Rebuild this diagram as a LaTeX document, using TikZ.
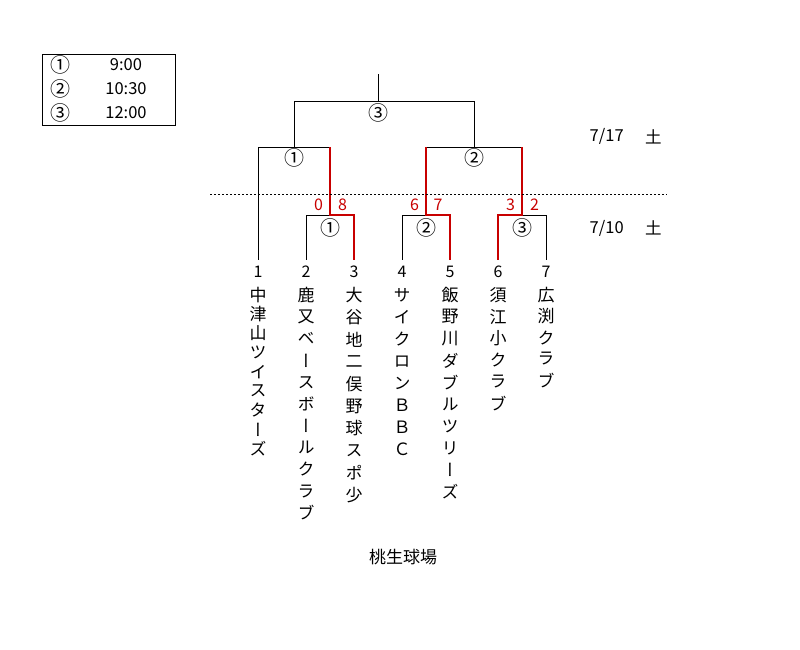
\documentclass[tikz,border=0pt]{standalone}
\usepackage{fontspec}
\setmainfont{Noto Sans CJK JP}
\newfontfamily\tatefont[RawFeature=+vert]{Noto Sans CJK JP}
\usetikzlibrary{calc,positioning}
\definecolor{win}{HTML}{C80000}

\begin{document}
\begin{tikzpicture}[x=1pt,y=-1pt,every node/.style={inner sep=0pt,font=\fontsize{16.5}{16.5}\selectfont},
  lose/.style={draw=black,line width=0.9pt},
  won/.style={draw=win,line width=2pt},
  num/.style={outer ysep=6pt,font=\fontsize{16}{16}\selectfont},
  tate/.style={font=\tatefont\fontsize{17}{17}\selectfont},
  rnd/.style={font=\fontsize{20}{20}\selectfont},
  score/.style={text=win,font=\fontsize{16}{16}\selectfont}]
\useasboundingbox (0,0) rectangle (800,650);
\draw (42,54) rectangle (175,125);
\foreach \y/\r/\t [count=\i] in {65/①/9:00,89/②/10:30,112.7/③/12:00}{
\node[rnd] (k\i) at (60.7,\y) {\r};
\node (h\i) at (126,\y) {\t};}
\foreach \x/\idx/\gap/\name in {258/1/19.2/{中,津,山,ツ,イ,ス,タ,ー,ズ},
  306/2/21.8/{鹿,又,ベ,ー,ス,ボ,ー,ル,ク,ラ,ブ},
  354/3/22.2/{大,谷,地,二,俣,野,球,ス,ポ,少},
  402/4/22.1/{サ,イ,ク,ロ,ン,Ｂ,Ｂ,Ｃ},
  450/5/21.9/{飯,野,川,ダ,ブ,ル,ツ,リ,ー,ズ},
  498/6/21.7/{須,江,小,ク,ラ,ブ},
  546/7/21.3/{広,渕,ク,ラ,ブ}}{
\node[num] (n\idx) at (\x,271.7) {\idx};
\foreach \c [count=\k] in \name
  \node[tate] (t\idx-\k) at (\x,{295+(\k-1)*\gap}) {\c};}
\coordinate (m1) at (330,215);
\coordinate (m2) at (426,215);
\coordinate (m3) at (522,215);
\coordinate (s1) at (294,147);
\coordinate (s2) at (474,147);
\coordinate (f) at (378,101.7);
\coordinate (top) at (378,74);
\draw[lose] (n2.north) |- (m1);
\draw[lose] (n4.north) |- (m2);
\draw[lose] (n7.north) |- (m3);
\draw[lose] (n1.north) |- (m1 |- s1);
\draw[lose] (m2 |- s2) -- (m3 |- s2);
\draw[lose] (s1) |- (f) -| (s2);
\draw[lose] (f) -- (top);
\draw[won] (n3.north) |- (m1) -- (m1 |- s1);
\draw[won] (n5.north) |- (m2) -- (m2 |- s2);
\draw[won] (n6.north) |- (m3) -- (m3 |- s2);
\node[rnd] (rf) at ($(f)+(0,11.3)$) {③};
\node[rnd] (rs1) at ($(s1)+(0,11.3)$) {①};
\node[rnd] (rs2) at ($(s2)+(0,11.3)$) {②};
\node[rnd] (r1) at ($(m1)+(0.7,13.3)$) {①};
\node[rnd] (r2) at ($(m2)+(0.7,13.3)$) {②};
\node[rnd] (r3) at ($(m3)+(0.7,13.3)$) {③};
\node[score] (p2) at ($(m1)+(-11.5,-10)$) {0};
\node[score] (p3) at ($(m1)+(12.5,-10)$) {8};
\node[score] (p4) at ($(m2)+(-11.5,-10)$) {6};
\node[score] (p5) at ($(m2)+(12,-10)$) {7};
\node[score] (p6) at ($(m3)+(-11.5,-10)$) {3};
\node[score] (p7) at ($(m3)+(12.5,-10)$) {2};
\coordinate (dl) at (210,194);
\coordinate (dr) at (667,194);
\draw[dash pattern=on 2pt off 2pt,line width=0.9pt] (dl) -- (dr);
\node (d1) at (606.7,136.7) {7/17};
\node (w1) at (653.3,136.7) {土};
\node (d2) at (606.7,228.3) {7/10};
\node (w2) at (653.3,228.3) {土};
\node[font=\fontsize{17}{17}\selectfont] (venue) at (403,556.7) {桃生球場};
\end{tikzpicture}
\end{document}
